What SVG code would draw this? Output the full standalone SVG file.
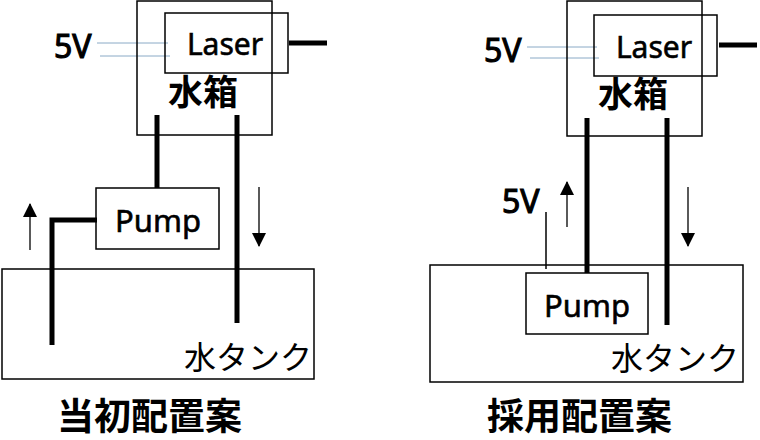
<svg xmlns="http://www.w3.org/2000/svg" width="760" height="440" viewBox="0 0 760 440">
<style>
.box{fill:none;stroke:#000;stroke-width:1.5}
.pipe{fill:none;stroke:#000;stroke-width:5}
.wire{fill:none;stroke:#8aaac6;stroke-width:1}
.thin{fill:none;stroke:#000;stroke-width:1.5}
.arr{fill:none;stroke:#000;stroke-width:1.3;marker-end:url(#ah)}
.t{font-family:"Noto Sans","Noto Sans CJK JP",sans-serif;fill:#000;stroke:#000;stroke-width:0.6}
.lbl{font-size:30px}
.v{font-size:32px;stroke-width:1.1}
.jp{font-family:"Noto Sans CJK JP",sans-serif;fill:#000}
.cap{font-size:37px;font-weight:bold}
</style>
<defs>
<marker id="ah" markerUnits="userSpaceOnUse" markerWidth="14" markerHeight="14" viewBox="0 0 14 14" refX="13" refY="7" orient="auto">
<path d="M0,0 L14,7 L0,14 Z" fill="#000"/>
</marker>
</defs>
<g id="connectors">
<line class="pipe" x1="289" y1="43" x2="327" y2="43"/>
<line class="wire" x1="97" y1="43" x2="168" y2="43"/>
<line class="wire" x1="100" y1="56" x2="170" y2="56"/>
<line class="pipe" x1="157" y1="115" x2="157" y2="188"/>
<line class="pipe" x1="237" y1="115" x2="237" y2="323"/>
<polyline class="pipe" points="97,220 52,220 52,345"/>
<line class="arr" x1="30" y1="250" x2="30" y2="204"/>
<line class="arr" x1="259" y1="187" x2="259" y2="246"/>
<line class="pipe" x1="719" y1="45" x2="757" y2="45"/>
<line class="wire" x1="527" y1="47" x2="597" y2="47"/>
<line class="wire" x1="530" y1="58" x2="599" y2="58"/>
<line class="pipe" x1="587" y1="118" x2="587" y2="273"/>
<line class="pipe" x1="667" y1="118" x2="667" y2="325"/>
<line class="thin" x1="546" y1="212" x2="546" y2="269"/>
<line class="arr" x1="567" y1="227" x2="567" y2="182"/>
<line class="arr" x1="688" y1="187" x2="688" y2="246"/>
</g>
<g id="left-tank">
<rect class="box" x="2" y="269" width="312" height="110"/>
<text class="jp" x="184" y="369" font-size="32">水タンク</text>
</g>
<g id="left-watertank">
<rect class="box" x="137" y="1" width="135" height="134"/>
<text class="jp" x="168" y="105" font-size="35" font-weight="bold">水箱</text>
</g>
<g id="left-laser">
<rect class="box" x="165" y="13" width="123" height="60"/>
<text class="t lbl" x="225" y="55" text-anchor="middle">Laser</text>
</g>
<g id="left-5v">
<text class="t v" x="54" y="58">5V</text>
</g>
<g id="left-pump">
<rect class="box" x="96" y="188" width="123" height="61"/>
<text class="t" x="158" y="232" font-size="31" text-anchor="middle">Pump</text>
</g>
<g id="right-tank">
<rect class="box" x="430" y="265" width="313" height="117"/>
<text class="jp" x="611" y="370" font-size="32">水タンク</text>
</g>
<g id="right-watertank">
<rect class="box" x="567" y="1" width="135" height="135"/>
<text class="jp" x="598" y="107" font-size="35" font-weight="bold">水箱</text>
</g>
<g id="right-laser">
<rect class="box" x="594" y="15" width="123" height="61"/>
<text class="t lbl" x="654" y="58" text-anchor="middle">Laser</text>
</g>
<g id="right-5v-laser">
<text class="t v" x="484" y="62">5V</text>
</g>
<g id="right-5v-pump">
<text class="t v" x="502" y="213">5V</text>
</g>
<g id="right-pump">
<rect class="box" x="526" y="273" width="122" height="61"/>
<text class="t" x="587" y="317" font-size="31" text-anchor="middle">Pump</text>
</g>
<g id="captions">
<text class="jp cap" x="57" y="430">当初配置案</text>
<text class="jp cap" x="487" y="430">採用配置案</text>
</g>
</svg>
